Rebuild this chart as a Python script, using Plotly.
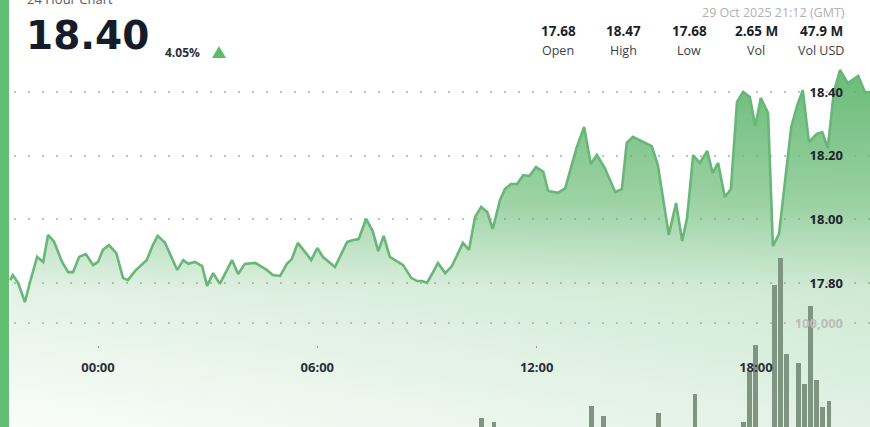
import plotly.graph_objects as go
import pandas as pd

# ---- data ----
day0 = "2025-10-29 00:00"
price_minutes = [-144, -140, -131, -120, -112, -100, -90, -82, -72, -59, -49, -41, -31, -20, -8, 0,
                 8, 18, 30, 41, 49, 61, 80, 90, 98, 110, 130, 140, 148, 159, 171, 179, 189, 200,
                 220, 230, 241, 258, 277, 287, 299, 310, 318, 328, 340, 350, 360, 369, 389, 409,
                 419, 428, 440, 451, 460, 469, 479, 491, 501, 514, 524, 532, 540, 550, 558, 570,
                 581, 599, 609, 619, 629, 639, 648, 660, 668, 678, 688, 698, 708, 719, 731, 739,
                 755, 767, 786, 798, 809, 819, 832, 849, 860, 868, 878, 909, 919, 937, 949, 959,
                 967, 977, 988, 1000, 1009, 1018, 1029, 1039, 1049, 1059, 1070, 1079, 1088, 1100,
                 1108, 1118, 1138, 1148, 1157, 1167, 1180, 1189, 1198, 1208, 1218, 1231, 1248,
                 1259, 1272]
prices = [17.809, 17.825, 17.800, 17.740, 17.800, 17.882, 17.866, 17.951, 17.929, 17.866, 17.834,
          17.834, 17.882, 17.891, 17.856, 17.866, 17.904, 17.919, 17.894, 17.816, 17.809, 17.838,
          17.872, 17.919, 17.948, 17.926, 17.841, 17.872, 17.860, 17.866, 17.853, 17.791, 17.831,
          17.797, 17.872, 17.828, 17.860, 17.863, 17.841, 17.825, 17.822, 17.860, 17.875, 17.926,
          17.897, 17.872, 17.910, 17.882, 17.850, 17.929, 17.935, 17.938, 18.001, 17.963, 17.900,
          17.948, 17.882, 17.869, 17.856, 17.816, 17.806, 17.806, 17.800, 17.834, 17.863, 17.831,
          17.853, 17.926, 17.904, 18.007, 18.039, 18.023, 17.970, 18.061, 18.095, 18.111, 18.111,
          18.139, 18.136, 18.164, 18.149, 18.089, 18.083, 18.098, 18.227, 18.290, 18.174, 18.202,
          18.161, 18.086, 18.095, 18.240, 18.259, 18.230, 18.171, 17.951, 18.051, 17.932, 18.004,
          18.202, 18.177, 18.215, 18.146, 18.177, 18.070, 18.095, 18.369, 18.400, 18.384, 18.293,
          18.381, 18.334, 17.916, 17.954, 18.290, 18.359, 18.406, 18.243, 18.268, 18.274, 18.224,
          18.400, 18.469, 18.428, 18.450, 18.400, 18.400]

vol_minutes = [630, 650, 810, 830, 920, 980, 1060, 1070, 1080, 1110, 1120, 1130,
               1150, 1160, 1170, 1180, 1190, 1200]
volumes = [16700, 13200, 27200, 18400, 21100, 37700, 13200, 57000, 80700, 133300, 157000,
           72800, 64900, 46500, 115000, 50000, 26300, 31600]

price_ticks = [17.8, 18.0, 18.2, 18.4]
time_ticks = ["2025-10-29 00:00", "2025-10-29 06:00", "2025-10-29 12:00", "2025-10-29 18:00"]
vol_ticks = [100000]
vol_tick_text = ["100,000"]

header_title = "24 Hour Chart"
last_price = "18.40"
change_pct = "4.05%"
timestamp = "29 Oct 2025 21:12 (GMT)"
stat_values = ["17.68", "18.47", "17.68", "2.65 M", "47.9 M"]
stat_labels = ["Open", "High", "Low", "Vol", "Vol USD"]

# ---- build ----
base = pd.Timestamp(day0)
t_price = base + pd.to_timedelta(price_minutes, unit="m")
t_vol = base + pd.to_timedelta(vol_minutes, unit="m")

W, H = 870, 427
def px(x):
    return x / W
def py(y):
    return 1 - y / H

G = "92,181,106"
FONT = "Open Sans"

fig = go.Figure()

# horizontal tint component of the area
fig.add_trace(go.Scatter(
    x=t_price, y=prices, mode="lines", line=dict(width=0, color="rgba(0,0,0,0)"),
    fill="tozeroy",
    fillgradient=dict(type="horizontal",
                      colorscale=[[0, f"rgba({G},0.0)"], [1, f"rgba({G},0.15)"]]),
    hoverinfo="skip", showlegend=False))

# vertical gradient area + line
fig.add_trace(go.Scatter(
    x=t_price, y=prices, mode="lines",
    line=dict(width=2.6, color="rgb(104,182,120)"),
    fill="tozeroy",
    fillgradient=dict(type="vertical", start=17.35, stop=18.47,
                      colorscale=[[0, f"rgba({G},0.04)"], [0.045, f"rgba({G},0.05)"],
                                  [0.382, f"rgba({G},0.17)"], [0.51, f"rgba({G},0.36)"],
                                  [0.62, f"rgba({G},0.55)"], [0.943, f"rgba({G},0.85)"],
                                  [1, f"rgba({G},0.88)"]]),
    hoverinfo="skip", showlegend=False))

fig.add_trace(go.Bar(
    x=t_vol, y=volumes, yaxis="y2", width=8 * 60 * 1000,
    marker=dict(color="rgb(128,148,130)", line=dict(width=0)),
    hoverinfo="skip", showlegend=False))

grid_dash = "2px,12px"
fig.update_layout(
    width=W, height=H, margin=dict(l=0, r=0, t=0, b=0),
    paper_bgcolor="white", plot_bgcolor="rgba(0,0,0,0)",
    font=dict(family=FONT),
    bargap=0,
    xaxis=dict(range=["2025-10-28 21:19:05", "2025-10-29 21:07:20"],
               anchor="free", position=(H - 345) / H,
               tickvals=time_ticks, tickformat="%H:%M",
               showgrid=False, zeroline=False, showline=False,
               ticks="outside", ticklen=2, tickcolor="#999", tickwidth=1,
               ticklabelstandoff=8,
               tickfont=dict(size=13, color="#2a2f38", family=FONT, weight="bold")),
    yaxis=dict(range=[17.3475, 18.689], side="right", ticklabelposition="inside",
               tickvals=price_ticks, tickformat=".2f",
               showgrid=True, gridcolor="#c2c2c2", gridwidth=2, griddash=grid_dash,
               zeroline=False, showline=False, ticks="", ticklabelstandoff=24,
               tickfont=dict(size=13, color="#1f2530", family=FONT, weight="bold")),
    yaxis2=dict(range=[8772, 383333], overlaying="y", side="right",
                ticklabelposition="inside", tickvals=vol_ticks, ticktext=vol_tick_text,
                showgrid=True, gridcolor="#c8c8c8", gridwidth=2, griddash=grid_dash,
                zeroline=False, showline=False, ticks="", ticklabelstandoff=24,
                tickfont=dict(size=13, color="#bdbdbd", family=FONT, weight="bold")),
)

ann = []
ann.append(dict(text=header_title, x=px(25), y=py(-1), xanchor="left", yanchor="middle",
                font=dict(size=13, color="#555a62", family=FONT)))
ann.append(dict(text=last_price, x=px(24), y=py(36), xanchor="left", yanchor="middle",
                font=dict(size=39, color="#141c2b", family="DejaVu Sans", weight="bold")))
ann.append(dict(text=change_pct, x=px(163), y=py(52), xanchor="left", yanchor="middle",
                font=dict(size=12, color="#2b2f38", family=FONT, weight="bold")))
ann.append(dict(text=timestamp, x=px(847), y=py(12), xanchor="right", yanchor="middle",
                font=dict(size=12.5, color="#b0b0b0", family=FONT)))
col_x = [558, 623, 689, 756, 821]
for cx, v, l in zip(col_x, stat_values, stat_labels):
    ann.append(dict(text=v, x=px(cx), y=py(31.5), xanchor="center", yanchor="middle",
                    font=dict(size=13.5, color="#1b1f27", family=FONT, weight="bold")))
    ann.append(dict(text=l, x=px(cx), y=py(50.5), xanchor="center", yanchor="middle",
                    font=dict(size=12.5, color="#3a3f48", family=FONT)))
for a in ann:
    a.update(xref="paper", yref="paper", showarrow=False)
fig.update_layout(annotations=ann)

tri = f"M {px(212)},{py(58)} L {px(226)},{py(58)} L {px(219)},{py(46)} Z"
fig.update_layout(shapes=[
    dict(type="rect", xref="paper", yref="paper", x0=0, x1=px(9), y0=0, y1=1,
         fillcolor="#62be72", line=dict(width=0), layer="above"),
    dict(type="path", xref="paper", yref="paper", path=tri,
         fillcolor="#5dbb6a", line=dict(width=0), layer="above"),
])

fig.write_html("out.html", config={"displayModeBar": False},
               post_script="document.body.style.margin='0';document.body.style.overflow='hidden';")
